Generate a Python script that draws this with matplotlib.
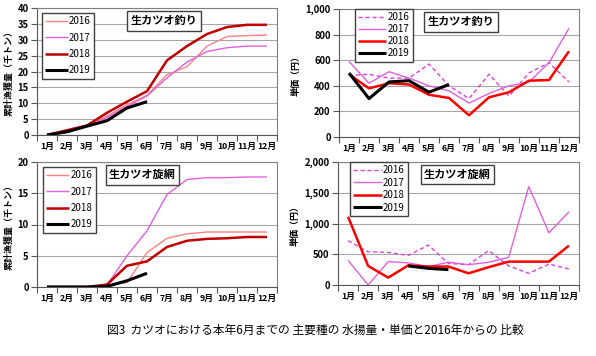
import numpy as np
import matplotlib
matplotlib.use("Agg")
import matplotlib.pyplot as plt

plt.rcParams['font.family'] = ['Noto Sans CJK JP', 'DejaVu Sans']

months = ["1月", "2月", "3月", "4月", "5月", "6月", "7月", "8月", "9月", "10月", "11月", "12月"]
years = ["2016", "2017", "2018", "2019"]

nan = np.nan

# 生カツオ釣り 累計漁獲量 (千トン)
pole_catch = {
    "2016": [0, 1.2, 2.8, 6.0, 9.5, 12.5, 19.0, 21.5, 28.0, 31.0, 31.3, 31.5],
    "2017": [0, 1.2, 2.8, 5.5, 9.0, 12.3, 18.0, 23.0, 26.3, 27.5, 28.0, 28.0],
    "2018": [0, 1.5, 3.0, 7.0, 10.5, 13.8, 23.5, 28.0, 31.8, 34.0, 34.7, 34.7],
    "2019": [0, 1.0, 2.8, 4.5, 8.5, 10.5, nan, nan, nan, nan, nan, nan],
}
# 生カツオ釣り 単価 (円)
pole_price = {
    "2016": [480, 490, 460, 460, 570, 400, 300, 490, 320, 500, 580, 430],
    "2017": [590, 420, 510, 460, 400, 360, 265, 340, 400, 430, 580, 850],
    "2018": [490, 380, 420, 410, 330, 305, 170, 310, 350, 440, 445, 670],
    "2019": [500, 300, 430, 440, 350, 410, nan, nan, nan, nan, nan, nan],
}
# 生カツオ旋網 累計漁獲量 (千トン)
seine_catch = {
    "2016": [0, 0, 0, 0.3, 0.7, 5.5, 7.8, 8.5, 8.8, 8.8, 8.8, 8.8],
    "2017": [0, 0, 0, 0.3, 5.0, 9.0, 14.8, 17.2, 17.5, 17.5, 17.6, 17.6],
    "2018": [0, 0, 0, 0.4, 3.4, 4.1, 6.4, 7.4, 7.7, 7.8, 8.0, 8.0],
    "2019": [0, 0, 0, 0.1, 1.0, 2.2, nan, nan, nan, nan, nan, nan],
}
# 生カツオ旋網 単価 (円)
seine_price = {
    "2016": [720, 540, 530, 480, 650, 350, 330, 560, 310, 190, 340, 260],
    "2017": [400, 0, 380, 360, 300, 370, 330, 370, 450, 1600, 850, 1190],
    "2018": [1110, 310, 120, 320, 300, 300, 190, 290, 380, 380, 380, 640],
    "2019": [nan, nan, nan, 310, 270, 250, nan, nan, nan, nan, nan, nan],
}

catch_styles = {
    "2016": dict(color="#ff8080", lw=1.0, ls="-"),
    "2017": dict(color="#e060e0", lw=1.0, ls="-"),
    "2018": dict(color="#c00000", lw=1.8, ls="-"),
    "2019": dict(color="black", lw=2.2, ls="-"),
}
price_styles = {
    "2016": dict(color="#e040e0", lw=1.0, ls=(0, (3, 2))),
    "2017": dict(color="#e060e0", lw=1.0, ls="-"),
    "2018": dict(color="#ff0000", lw=1.8, ls="-"),
    "2019": dict(color="black", lw=2.2, ls="-"),
}

W, H = 596, 356
fig = plt.figure(figsize=(W / 100, H / 100), dpi=100)


def px_axes(left, top, right, bottom):
    return fig.add_axes([left / W, 1 - bottom / H, (right - left) / W, (bottom - top) / H])


def draw(ax, data, styles, ymax, ystep, ylabel, title, fmt, legend_box, title_pos, spacing, hlen):
    x = np.arange(12)
    for y in years:
        ax.plot(x, data[y], label=y, solid_capstyle="butt", **styles[y])
    ax.set_xlim(-0.5, 11.5)
    ax.set_ylim(0, ymax)
    ticks = np.arange(0, ymax + ystep / 2, ystep)
    ax.set_yticks(ticks)
    ax.set_yticklabels([fmt(t) for t in ticks], fontweight="bold")
    ax.set_xticks(np.arange(-0.5, 12, 1))
    ax.set_xticklabels([])
    ax.set_xticks(x, minor=True)
    ax.set_xticklabels(months, minor=True, fontweight="bold")
    ax.tick_params(axis="x", which="minor", length=0, pad=5, labelsize=6.3)
    ax.tick_params(axis="x", which="major", length=4, width=0.8, color="#555555")
    ax.tick_params(axis="y", length=4, width=0.8, color="#555555", labelsize=6.8, pad=2)
    ax.grid(axis="y", color="#a6a6a6", lw=0.8)
    ax.set_axisbelow(True)
    for s in ax.spines.values():
        s.set_color("#808080")
        s.set_linewidth(0.8)
    ax.spines["left"].set_color("#555555")
    ax.spines["bottom"].set_color("#555555")
    ax.set_ylabel(ylabel, fontsize=6.5, fontweight="bold", labelpad=3)
    leg = ax.legend(loc="upper left", bbox_to_anchor=legend_box, fontsize=7,
                    handlelength=hlen, handletextpad=0.15, labelspacing=spacing,
                    borderpad=0.35, borderaxespad=0, fancybox=False, framealpha=1,
                    edgecolor="#404040")
    leg.get_frame().set_linewidth(1.0)
    ax.text(title_pos[0], title_pos[1], title, transform=ax.transAxes, fontsize=8,
            fontweight="bold", va="top", ha="left",
            bbox=dict(boxstyle="square,pad=0.3", fc="white", ec="#404040", lw=1.0))


def comma(v):
    return f"{int(v):,}"


ax1 = px_axes(37, 8, 277, 135)
draw(ax1, pole_catch, catch_styles, 40, 5, "累計漁獲量（千トン）", "生カツオ釣り",
     lambda v: f"{int(v)}", (0.02, 0.96), (0.39, 0.95), 0.65, 2.3)
ax2 = px_axes(339, 9, 579, 137)
draw(ax2, pole_price, price_styles, 1000, 200, "単価（円）", "生カツオ釣り",
     comma, (0.065, 1.0), (0.37, 0.95), 0.2, 2.9)
ax3 = px_axes(37, 162, 277, 287)
draw(ax3, seine_catch, catch_styles, 20, 5, "累計漁獲量（千トン）", "生カツオ旋網",
     lambda v: f"{int(v)}", (0.025, 0.96), (0.30, 0.95), 0.65, 2.3)
ax4 = px_axes(338, 162, 579, 285)
draw(ax4, seine_price, price_styles, 2000, 500, "単価（円）", "生カツオ旋網",
     comma, (0.05, 1.0), (0.357, 0.95), 0.25, 2.9)

fig.text(315 / W, 1 - 330 / H, "図3  カツオにおける本年6月までの 主要種の 水揚量・単価と2016年からの 比較",
         ha="center", va="center", fontsize=8.5)

fig.savefig("out.png", dpi=100)
